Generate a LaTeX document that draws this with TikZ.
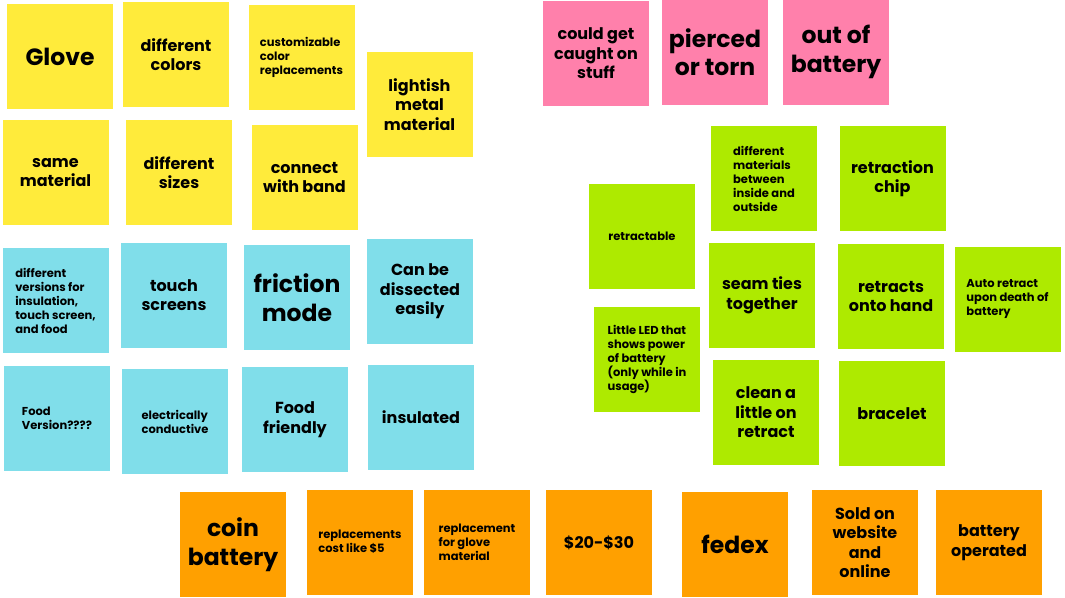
\documentclass[tikz,border=0pt]{standalone}
\usepackage{fontspec}
\setmainfont{Poppins}
\definecolor{ntyellow}{RGB}{255,235,59}
\definecolor{ntcyan}{RGB}{128,222,234}
\definecolor{ntpink}{RGB}{255,128,171}
\definecolor{ntlime}{RGB}{174,234,0}
\definecolor{ntamber}{RGB}{255,160,0}

\begin{document}
\begin{tikzpicture}[x=1pt,y=-1pt,
  note/.style={minimum width=106pt,minimum height=105pt,inner sep=0pt,align=center},
  txs/.style={font=\fontsize{11.5}{14}\selectfont\bfseries,align=left},
  txm/.style={font=\fontsize{16}{19.5}\selectfont\bfseries},
  txl/.style={font=\fontsize{23.5}{28.5}\selectfont\bfseries}]
  \useasboundingbox (0,0) rectangle (1065,597);
  \fill[white] (0,0) rectangle (1065,597);
  % glove
  \node[note,fill=ntyellow,txl] (glove) at (60,56.5) {Glove};
  \node[note,fill=ntyellow,txm] (colors) at (176,54.5) {different\\colors};
  \node[note,fill=ntyellow,txs] (custom) at (301.5,57.5) {customizable\\color\\replacements};
  \node[note,fill=ntyellow,txm] (metal) at (419.5,104.5) {lightish\\metal\\material};
  \node[note,fill=ntyellow,txm] (samemat) at (55.5,172.5) {same\\material};
  \node[note,fill=ntyellow,txm] (sizes) at (179,172.5) {different\\sizes};
  \node[note,fill=ntyellow,txm] (band) at (304.5,177.5) {connect\\with band};
  % versions
  \node[note,fill=ntcyan,txs] (versions) at (55.5,300.5) {different\\versions for\\insulation,\\touch screen,\\and food};
  \node[note,fill=ntcyan,txm] (touch) at (174,295) {touch\\screens};
  \node[note,fill=ntcyan,txl] (friction) at (297,297.5) {friction\\mode};
  \node[note,fill=ntcyan,txm] (dissect) at (420,291.5) {Can be\\dissected\\easily};
  \node[note,fill=ntcyan,txs] (foodver) at (57,418) {Food\\Version????};
  \node[note,fill=ntcyan,txs] (conduct) at (175,421.5) {electrically\\conductive};
  \node[note,fill=ntcyan,txm] (foodfr) at (295,419.5) {Food\\friendly};
  \node[note,fill=ntcyan,txm] (insul) at (421,417.5) {insulated};
  % problems
  \node[note,fill=ntpink,txm] (caught) at (596,53.5) {could get\\caught on\\stuff};
  \node[note,fill=ntpink,txl] (pierced) at (715,52) {pierced\\or torn};
  \node[note,fill=ntpink,txl] (outbat) at (836,52) {out of\\battery};
  % retraction
  \node[note,fill=ntlime,txs] (materials) at (764,178.5) {different\\materials\\between\\inside and\\outside};
  \node[note,fill=ntlime,txm] (chip) at (892.5,178.5) {retraction\\chip};
  \node[note,fill=ntlime,txs] (retractable) at (642,236.5) {retractable};
  \node[note,fill=ntlime,txm] (seam) at (762,295.5) {seam ties\\together};
  \node[note,fill=ntlime,txm] (ontohand) at (891,296.5) {retracts\\onto hand};
  \node[note,fill=ntlime,txs] (autoretract) at (1007.5,299) {Auto retract\\upon death of\\battery};
  \node[note,fill=ntlime,txs] (led) at (647,359.5) {Little LED that\\shows power\\of battery\\(only while in\\usage)};
  \node[note,fill=ntlime,txm] (clean) at (766,412.5) {clean a\\little on\\retract};
  \node[note,fill=ntlime,txm] (bracelet) at (892,413.5) {bracelet};
  % selling
  \node[note,fill=ntamber,txl] (coin) at (233,544.5) {coin\\battery};
  \node[note,fill=ntamber,txs] (replcost) at (360,542) {replacements\\cost like \$5};
  \node[note,fill=ntamber,txs] (replglove) at (477,542) {replacement\\for glove\\material};
  \node[note,fill=ntamber,txm] (price) at (599,542.5) {\$20-\$30};
  \node[note,fill=ntamber,txl] (fedex) at (735,544) {fedex};
  \node[note,fill=ntamber,txm] (sold) at (865,542.5) {Sold on\\website\\and\\online};
  \node[note,fill=ntamber,txm] (batop) at (989,542.5) {battery\\operated};
\end{tikzpicture}
\end{document}
